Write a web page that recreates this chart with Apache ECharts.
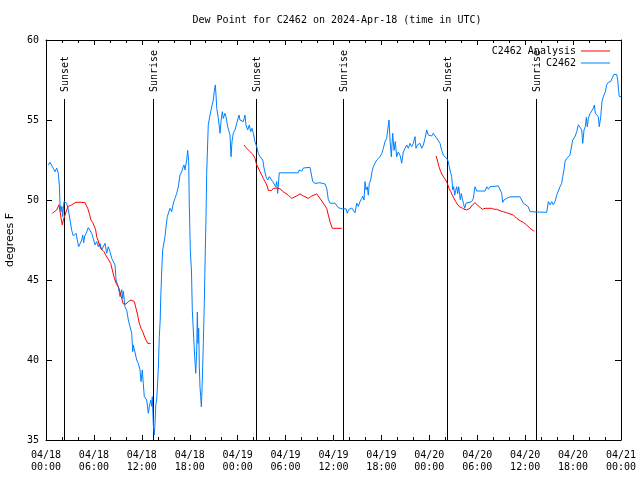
<!DOCTYPE html>
<html><head><meta charset="utf-8">
<script src="https://cdn.jsdelivr.net/npm/echarts@6/dist/echarts.min.js"></script>
<style>html,body{margin:0;padding:0;background:#fff}#c{width:640px;height:480px}</style>
</head><body><div id="c"></div>
<script>
// hours since 2024-04-18 00:00 UTC
const obsHours = [
0.29,0.50,0.91,1.13,1.34,1.54,1.67,1.75,1.88,2.00,
2.09,2.25,2.50,2.59,2.79,3.01,3.22,3.42,3.63,3.76,
3.92,4.09,4.26,4.47,4.60,4.72,4.85,5.10,5.30,5.51,
5.72,5.92,6.14,6.35,6.55,6.76,6.97,7.18,7.39,7.60,
7.80,8.01,8.23,8.43,8.64,8.77,8.93,9.05,9.27,9.48,
9.60,9.68,9.89,10.11,10.31,10.52,10.73,10.86,10.93,11.14,
11.36,11.56,11.77,11.90,12.06,12.18,12.31,12.48,12.61,12.81,
12.94,13.11,13.24,13.31,13.44,13.56,13.65,13.75,13.86,14.06,
14.19,14.30,14.36,14.49,14.61,14.90,15.03,15.19,15.31,15.53,
15.74,15.94,16.15,16.37,16.57,16.78,16.99,17.12,17.28,17.41,
17.62,17.74,17.87,17.94,18.07,18.22,18.32,18.50,18.62,18.75,
18.87,18.95,19.03,19.12,19.20,19.28,19.37,19.45,19.53,19.62,
19.70,19.82,19.95,20.04,20.12,20.32,20.54,20.75,20.95,21.07,
21.20,21.29,21.38,21.58,21.79,21.91,22.08,22.20,22.41,22.54,
22.75,22.92,23.04,23.17,23.29,23.45,23.67,23.88,24.17,24.29,
24.51,24.71,24.92,25.04,25.26,25.46,25.63,25.80,25.96,26.17,
26.38,26.58,26.80,27.01,27.14,27.30,27.55,27.76,27.96,28.17,
28.39,28.59,28.76,28.89,29.01,29.21,31.59,31.72,31.89,32.02,
32.22,32.43,33.06,33.27,33.40,33.68,34.31,34.94,35.15,35.35,
35.56,36.19,36.40,36.60,36.82,37.15,37.32,37.57,37.73,37.90,
38.07,38.28,38.48,38.69,38.91,39.11,39.32,39.53,39.66,39.82,
39.95,40.07,40.23,40.36,40.48,40.66,40.82,40.99,41.20,41.41,
41.61,41.82,42.04,42.24,42.45,42.66,42.79,42.95,43.08,43.24,
43.41,43.58,43.74,43.91,44.11,44.33,44.54,44.74,44.95,45.17,
45.37,45.58,45.79,45.99,46.21,46.33,46.50,46.67,46.83,47.05,
47.25,47.46,47.67,47.87,48.08,48.30,48.50,48.71,48.92,49.12,
49.34,49.55,49.75,49.96,50.17,50.38,50.50,50.68,50.80,50.93,
51.05,51.18,51.30,51.43,51.55,51.68,51.75,51.88,52.01,52.13,
52.26,52.43,52.59,52.76,53.31,53.51,53.72,53.93,54.97,55.19,
55.39,55.60,55.81,56.64,56.85,57.06,57.19,57.35,57.69,58.10,
59.35,59.57,59.77,59.98,60.39,60.61,60.82,62.70,62.90,63.11,
63.32,63.52,63.74,63.95,64.15,64.36,64.57,64.70,64.86,64.99,
65.20,65.40,65.61,65.83,65.95,66.12,66.24,66.45,66.66,66.87,
67.08,67.21,67.37,67.53,67.66,67.78,67.91,68.12,68.33,68.53,
68.66,68.78,68.96,69.16,69.28,69.46,69.62,69.79,70.04,70.21,
70.41,70.71,70.87,70.96,71.12,71.46,71.59,71.71,71.79,72.00
];
const obsDew = [
52.19,52.36,51.98,51.77,52.0,51.67,50.94,49.8,49.27,49.6,
48.96,49.9,49.9,49.8,49.4,48.75,48.1,47.75,47.67,47.92,
47.5,47.08,47.19,47.5,47.81,47.33,47.75,48.0,48.27,48.29,
47.92,47.6,47.19,47.4,47.08,47.29,46.88,46.98,47.29,46.67,
47.08,46.77,46.35,46.46,45.94,45.0,44.9,44.58,43.96,44.4,
43.85,44.3,43.33,43.1,42.5,42.08,41.67,40.52,40.94,40.83,
40.0,39.79,39.38,38.65,39.38,38.54,37.71,37.71,37.5,36.67,
37.08,37.5,37.1,37.71,35.94,35.31,36.04,37.2,37.5,39.4,
41.46,42.5,43.75,45.6,46.88,47.7,48.33,48.96,49.06,49.48,
49.27,49.8,50.1,50.42,50.83,51.56,51.77,52.0,52.19,51.88,
52.5,53.1,52.4,49.8,46.9,45.5,43.1,41.35,40.2,39.17,
40.6,43.0,41.04,41.98,39.58,38.33,37.71,37.08,38.13,39.58,
41.04,43.54,46.88,49.0,51.67,54.7,55.3,55.83,56.25,56.77,
57.19,56.56,55.73,55.1,54.17,54.9,55.52,55.1,55.42,55.2,
54.58,54.27,54.06,52.7,53.65,54.17,54.38,54.79,55.31,55.0,
55.1,54.9,55.31,54.69,54.38,54.69,54.27,54.48,54.17,53.65,
53.33,52.92,52.71,52.8,52.5,52.0,51.46,51.25,51.46,51.56,
51.15,51.25,50.83,51.15,50.42,51.7,51.7,51.88,52.0,51.8,
52.0,52.04,52.04,52.0,51.15,51.04,51.08,51.0,50.73,50.04,
49.8,49.8,49.7,49.52,49.4,49.44,49.4,49.45,49.17,49.4,
49.45,49.5,49.38,49.2,49.8,49.6,49.9,50.1,50.25,50.0,
51.15,50.63,50.83,50.3,51.04,51.25,51.77,52.08,52.3,52.5,
52.4,52.7,52.9,53.23,53.65,53.85,54.38,55.0,53.75,52.7,
54.17,53.1,53.65,52.7,53.0,52.8,52.3,53.0,53.23,53.44,
53.23,53.54,53.33,53.54,53.96,53.23,53.44,53.33,53.54,53.23,
53.44,53.85,54.38,54.06,54.17,54.0,54.17,54.17,53.85,53.85,
53.54,53.1,52.8,52.7,52.6,52.4,52.08,51.67,51.46,50.63,
50.83,50.3,50.6,50.83,50.4,50.83,50.94,50.0,50.4,50.1,
49.8,49.48,49.8,49.9,49.9,50.1,50.83,50.56,50.56,50.83,
50.67,50.83,50.88,50.88,50.83,50.42,49.85,50.0,50.1,50.2,
50.2,50.1,49.8,49.7,49.58,49.27,49.23,49.23,49.9,49.7,
49.9,49.7,49.9,50.3,50.42,50.83,51.04,51.46,51.88,52.4,
52.6,52.6,52.8,52.9,53.75,53.85,53.96,54.27,54.7,54.75,
54.38,53.54,54.38,54.58,55.17,54.58,55.1,55.4,55.52,55.73,
55.94,55.42,55.52,55.2,54.58,55.2,56.15,56.46,56.77,57.2,
57.35,57.4,57.4,57.7,57.85,57.85,57.5,56.77,56.46,56.46
];
// analysis series; null marks a gap
const anaHours = [
0.79,1.00,1.34,1.63,1.75,1.92,2.04,2.17,2.38,2.59,
2.79,3.22,3.42,3.76,4.26,4.47,4.88,5.01,5.22,5.42,
5.63,5.85,6.05,6.22,6.35,6.51,6.67,6.85,7.05,7.26,
7.48,7.73,7.93,8.10,8.30,8.51,8.77,8.98,9.14,9.35,
9.48,9.68,10.02,10.31,10.64,10.86,11.06,11.27,11.48,11.68,
11.90,12.11,12.31,12.52,12.74,13.11,20.00,
24.79,25.13,25.55,25.88,26.17,26.38,26.58,26.80,27.01,27.21,
27.42,27.64,27.84,28.05,28.26,28.46,28.68,28.96,29.30,29.71,
29.93,30.34,30.77,31.18,31.81,32.22,32.85,33.27,33.90,34.31,
34.72,35.15,35.35,35.56,35.85,37.03,43.00,
48.84,49.00,49.21,49.43,49.62,49.84,50.05,50.25,50.46,50.68,
50.88,51.09,51.30,51.50,51.75,52.05,52.34,52.68,52.88,53.09,
53.38,53.72,54.01,54.35,54.64,54.97,55.81,56.10,56.44,56.85,
57.27,57.69,58.10,58.52,58.94,59.35,59.77,60.19,60.61,61.02,
61.15
];
const anaDew = [
49.17,49.1,49.38,49.7,49.8,48.75,48.44,48.75,49.06,49.38,
49.6,49.7,49.8,49.86,49.86,49.8,49.84,49.86,49.48,49.17,
48.75,48.6,48.56,48.13,47.7,47.5,47.19,46.98,46.88,46.77,
46.56,46.35,46.3,46.04,45.63,45.2,44.8,44.8,44.48,44.38,
43.85,43.5,43.5,43.65,43.75,43.8,43.65,43.23,42.8,42.3,
41.98,41.77,41.5,41.25,41.04,41.04,null,
53.44,53.23,53.02,52.86,52.6,52.19,52.0,51.77,51.56,51.35,
51.15,50.94,50.6,50.52,50.6,50.73,50.8,50.75,50.7,50.52,
50.45,50.3,50.1,50.2,50.38,50.25,50.1,50.25,50.38,50.1,
49.8,49.48,49.06,48.65,48.23,48.23,null,
52.75,52.5,52.08,51.77,51.56,51.46,51.25,51.04,50.73,50.52,
50.3,50.1,49.9,49.75,49.58,49.52,49.42,49.38,49.27,49.48,
49.69,49.83,49.69,49.54,49.42,49.48,49.48,49.42,49.42,49.33,
49.27,49.2,49.13,49.06,48.85,48.71,48.6,48.44,48.23,48.08,
48.08
];
const sunHours = [2.25, 13.36, 26.30, 37.25, 50.21, 61.30];
const sunLabels = ['Sunset','Sunrise','Sunset','Sunrise','Sunset','Sunrise'];
const xTickLabels = ['04/18\n00:00','04/18\n06:00','04/18\n12:00','04/18\n18:00','04/19\n00:00','04/19\n06:00','04/19\n12:00','04/19\n18:00','04/20\n00:00','04/20\n06:00','04/20\n12:00','04/20\n18:00','04/21\n00:00'];
const yMin = 35, yMax = 60;

const MONO = '"DejaVu Sans Mono", monospace';
const chart = echarts.init(document.getElementById('c'), null, {renderer:'canvas'});
const axisCommon = {
  axisLine:{show:true, onZero:false, lineStyle:{color:'#000', width:1}},
  splitLine:{show:false}
};
chart.setOption({
  animation:false,
  backgroundColor:'#fff',
  title:{text:'Dew Point for C2462 on 2024-Apr-18 (time in UTC)', left:332, top:10, textAlign:'center',
    textStyle:{fontFamily:MONO, fontSize:10, fontWeight:'normal', color:'#000'}},
  legend:{orient:'vertical', right:30, top:45, align:'right', icon:'rect',
    itemWidth:29, itemHeight:1, itemGap:0, padding:0, selectedMode:false,
    data:[{name:'C2462 Analysis', itemStyle:{color:'#ff0000'}}, {name:'C2462', itemStyle:{color:'#0080ff'}}],
    textStyle:{fontFamily:MONO, fontSize:10, lineHeight:12, color:'#000'}},
  grid:{left:46, right:19, top:40, bottom:40, containLabel:false, outerBoundsMode:'none'},
  xAxis:[
    Object.assign({type:'value', min:0, max:72, interval:6, position:'bottom',
      axisTick:{show:true, inside:true, length:5, lineStyle:{color:'#000'}},
      minorTick:{show:true, splitNumber:3, length:3, lineStyle:{color:'#000'}},
      minorSplitLine:{show:false},
      axisLabel:{margin:9, lineHeight:12, fontFamily:MONO, fontSize:10, color:'#000',
        formatter:(v)=>xTickLabels[Math.round(v/6)]}}, axisCommon),
    Object.assign({type:'value', min:0, max:72, interval:6, position:'top',
      axisTick:{show:true, inside:true, length:5, lineStyle:{color:'#000'}},
      minorTick:{show:true, splitNumber:3, length:3, lineStyle:{color:'#000'}},
      minorSplitLine:{show:false},
      axisLabel:{show:false}}, axisCommon)
  ],
  yAxis:[
    Object.assign({type:'value', min:yMin, max:yMax, interval:5, position:'left',
      axisTick:{show:true, inside:true, length:6, lineStyle:{color:'#000'}},
      axisLabel:{margin:7, fontFamily:MONO, fontSize:10, color:'#000'},
      name:'degrees F', nameLocation:'middle', nameGap:30, nameRotate:90,
      nameTextStyle:{fontFamily:'"DejaVu Sans", sans-serif', fontSize:11, color:'#000'}}, axisCommon),
    Object.assign({type:'value', min:yMin, max:yMax, interval:5, position:'right',
      axisTick:{show:true, inside:true, length:6, lineStyle:{color:'#000'}},
      axisLabel:{show:false}}, axisCommon)
  ],
  series:[
    {type:'custom', silent:true, z:1, xAxisIndex:0, yAxisIndex:0,
      data: sunHours.map(h=>[h, yMin]),
      renderItem:(params, api)=>{
        const cs = params.coordSys;
        const p = api.coord([api.value(0), yMin]);
        const x = Math.round(p[0]) + 0.5;
        const top = Math.round(cs.y + cs.height*0.1475);
        return {type:'group', children:[
          {type:'line', shape:{x1:x, y1:p[1], x2:x, y2:top}, style:{stroke:'#000', lineWidth:1}},
          {type:'text', x:x+1, y:top-7, rotation:Math.PI/2,
            style:{text:sunLabels[params.dataIndex], align:'left', verticalAlign:'middle',
              font:'10px "DejaVu Sans Mono"', fill:'#000'}}
        ]};
      }},
    {name:'C2462 Analysis', type:'line', xAxisIndex:0, yAxisIndex:0, symbol:'none', showSymbol:false,
      connectNulls:false, z:3,
      lineStyle:{color:'#ff0000', width:1}, itemStyle:{color:'#ff0000'},
      data: anaHours.map((h,i)=> anaDew[i]===null ? [h,'-'] : [h, anaDew[i]])},
    {name:'C2462', type:'line', xAxisIndex:0, yAxisIndex:0, symbol:'none', showSymbol:false, z:2,
      lineStyle:{color:'#0080ff', width:1}, itemStyle:{color:'#0080ff'},
      data: obsHours.map((h,i)=>[h, obsDew[i]])}
  ]
});
</script></body></html>
